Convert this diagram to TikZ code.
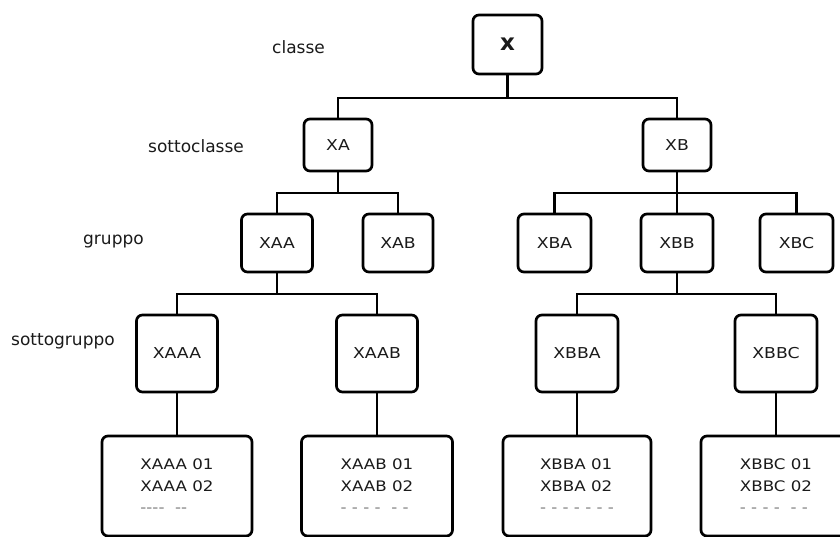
\documentclass[tikz,border=0pt]{standalone}
\usepackage{fontspec}
\setmainfont{DejaVu Sans}
\newfontfamily\boxfont[FakeStretch=1.15]{DejaVu Sans}
\definecolor{ink}{HTML}{1A1A1A}
\definecolor{dashgray}{HTML}{7A7A7A}
\tikzset{
  every picture/.style={x=1pt,y=-1pt},
  tbox/.style={draw=black, line width=2.7pt, rounded corners=6pt, fill=white,
    inner sep=0pt, text=ink, font=\boxfont\fontsize{15}{17}\selectfont},
  lvl/.style={anchor=west, inner sep=0pt, text=ink, font=\fontsize{17}{20}\selectfont},
  link/.style={draw=black, line width=2.7pt},
  listtext/.style={inner sep=0pt, text=ink, align=left,
    font=\boxfont\fontsize{14.5}{21.5}\selectfont},
}
\begin{document}
\begin{tikzpicture}
\useasboundingbox (0,0) rectangle (840,536);
\clip (0,0) rectangle (840,536);

% level labels
\node[lvl] (Lclasse) at (272,47) {classe};
\node[lvl] (Lsottoclasse) at (148,146) {sottoclasse};
\node[lvl] (Lgruppo) at (83,242) {gruppo};
\node[lvl] (Lsottogruppo) at (11,341) {sottogruppo};

% classe
\node[tbox, minimum width=69pt, minimum height=59pt, font=\bfseries\fontsize{23}{25}\selectfont] (X) at (507.5,44.5) {x};

% sottoclassi
\node[tbox, minimum width=68pt, minimum height=52pt] (XA) at (338,145) {XA};
\node[tbox, minimum width=68pt, minimum height=52pt] (XB) at (677,145) {XB};

% gruppi
\node[tbox, minimum width=71pt, minimum height=58pt] (XAA) at (277,243) {XAA};
\node[tbox, minimum width=70pt, minimum height=58pt] (XAB) at (398,243) {XAB};
\node[tbox, minimum width=73pt, minimum height=58pt] (XBA) at (554.5,243) {XBA};
\node[tbox, minimum width=72pt, minimum height=58pt] (XBB) at (677,243) {XBB};
\node[tbox, minimum width=73pt, minimum height=58pt] (XBC) at (796.5,243) {XBC};

% sottogruppi
\node[tbox, minimum width=81pt, minimum height=77pt] (XAAA) at (177,353.5) {XAAA};
\node[tbox, minimum width=81pt, minimum height=77pt] (XAAB) at (377,353.5) {XAAB};
\node[tbox, minimum width=82pt, minimum height=77pt] (XBBA) at (577,353.5) {XBBA};
\node[tbox, minimum width=82pt, minimum height=77pt] (XBBC) at (776,353.5) {XBBC};

% elenchi
\node[tbox, minimum width=150pt, minimum height=100pt] (LAAA) at (177,486) {};
\node[tbox, minimum width=151pt, minimum height=100pt] (LAAB) at (377,486) {};
\node[tbox, minimum width=148pt, minimum height=100pt] (LBBA) at (577,486) {};
\node[tbox, minimum width=150pt, minimum height=100pt] (LBBC) at (776,486) {};

\node[listtext] (TAAA) at (177,486) {XAAA 01\\XAAA 02\\{\color{dashgray}----\ \ --}};
\node[listtext] (TAAB) at (377,486) {XAAB 01\\XAAB 02\\{\color{dashgray}- - - -\ \ - -}};
\node[listtext] (TBBA) at (577,486) {XBBA 01\\XBBA 02\\{\color{dashgray}- - - - -\ - -}};
\node[listtext] (TBBC) at (776,486) {XBBC 01\\XBBC 02\\{\color{dashgray}- - - -\ \ - -}};

% giunzioni
\coordinate (j0) at (507.5,98);
\coordinate (jA) at (338,193);
\coordinate (jB) at (677,193);
\coordinate (jAA) at (277,294);
\coordinate (jBB) at (677,294);

% collegamenti
\draw[link] (X.south) -- (j0);
\draw[link] (XA.north) |- (j0) -| (XB.north);

\draw[link] (XA.south) -- (jA);
\draw[link] (XAA.north) |- (jA) -| (XAB.north);

\draw[link] (XB.south) -- (jB);
\draw[link] (XBA.north) |- (jB) -| (XBC.north);
\draw[link] (XBB.north) -- (jB);

\draw[link] (XAA.south) -- (jAA);
\draw[link] (XAAA.north) |- (jAA) -| (XAAB.north);

\draw[link] (XBB.south) -- (jBB);
\draw[link] (XBBA.north) |- (jBB) -| (XBBC.north);

\draw[link] (XAAA.south) -- (LAAA.north);
\draw[link] (XAAB.south) -- (LAAB.north);
\draw[link] (XBBA.south) -- (LBBA.north);
\draw[link] (XBBC.south) -- (LBBC.north);
\end{tikzpicture}
\end{document}
